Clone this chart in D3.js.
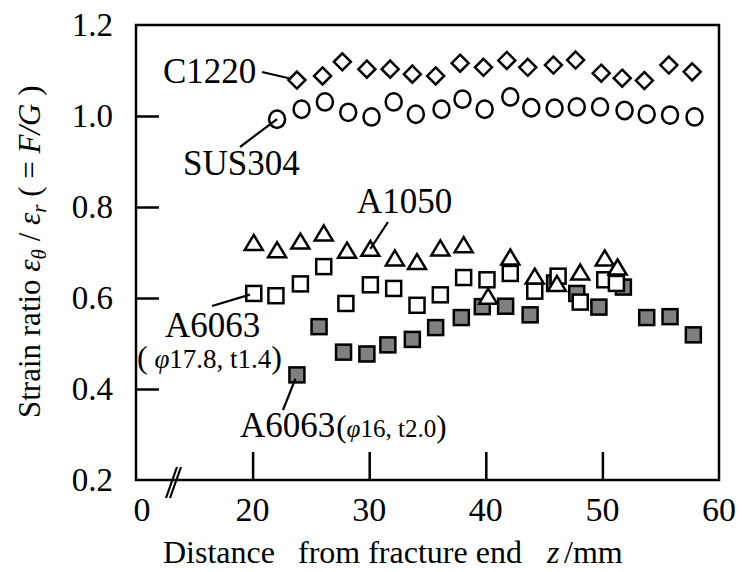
<!DOCTYPE html>
<html>
<head>
<meta charset="utf-8">
<script src="https://cdn.jsdelivr.net/npm/d3@7"></script>
<style>
  body { margin: 0; background: #fff; }
  svg { display: block; }
  text { font-family: 'Liberation Serif', 'Times New Roman', serif; fill: #000; }
</style>
</head>
<body>
<div id="chart"></div>
<script>
// distance from fracture end z (mm) and strain ratio, one pair of arrays per material
const c1220Z = [23.8, 26.0, 27.7, 29.8, 31.8, 33.7, 35.7, 37.8, 39.8, 41.8, 43.6, 45.8, 47.7, 49.9, 51.7, 53.6, 55.7, 57.7];
const c1220V = [1.079, 1.088, 1.119, 1.103, 1.103, 1.092, 1.088, 1.116, 1.107, 1.122, 1.107, 1.112, 1.123, 1.094, 1.083, 1.078, 1.112, 1.097];

const sus304Z = [22.1, 24.2, 26.2, 28.2, 30.2, 32.1, 34.0, 36.2, 38.0, 39.9, 42.1, 43.9, 45.9, 47.8, 49.8, 51.9, 53.8, 55.8, 57.9];
const sus304V = [0.993, 1.015, 1.031, 1.008, 0.998, 1.031, 1.004, 1.015, 1.037, 1.015, 1.042, 1.018, 1.017, 1.020, 1.020, 1.012, 1.004, 1.002, 0.998];

const a1050Z = [20.1, 22.1, 24.1, 26.1, 28.1, 30.1, 32.2, 34.1, 36.1, 38.1, 40.2, 42.1, 44.2, 46.1, 48.1, 50.2, 51.3];
const a1050V = [0.721, 0.705, 0.724, 0.742, 0.704, 0.708, 0.687, 0.679, 0.709, 0.716, 0.603, 0.689, 0.647, 0.631, 0.656, 0.687, 0.667];

const a6063aZ = [20.1, 22.0, 24.1, 26.1, 28.0, 30.1, 32.1, 34.1, 36.1, 38.1, 40.1, 42.1, 44.2, 46.2, 48.1, 50.2, 51.2];
const a6063aV = [0.610, 0.605, 0.631, 0.669, 0.588, 0.629, 0.621, 0.584, 0.607, 0.645, 0.640, 0.654, 0.615, 0.648, 0.591, 0.640, 0.632];

const a6063bZ = [23.8, 25.7, 27.8, 29.8, 31.6, 33.7, 35.7, 37.9, 39.7, 41.7, 43.8, 45.9, 47.8, 49.7, 51.8, 53.8, 55.8, 57.8];
const a6063bV = [0.431, 0.537, 0.481, 0.477, 0.497, 0.509, 0.535, 0.557, 0.581, 0.582, 0.563, 0.633, 0.610, 0.580, 0.624, 0.557, 0.559, 0.519];

const xTicks = [10, 20, 30, 40, 50, 60];
const xTickLabels = ['0', '20', '30', '40', '50', '60'];
const yTicks = [0.2, 0.4, 0.6, 0.8, 1.0, 1.2];

const width = 742, height = 572;
const margin = { top: 25, right: 23, bottom: 92, left: 136 };

const svg = d3.select('#chart').append('svg')
  .attr('width', width).attr('height', height);

// axis is broken: left edge stands for 10 mm but is labelled 0
const x = d3.scaleLinear().domain([10, 60]).range([margin.left, width - margin.right]);
const y = d3.scaleLinear().domain([0.2, 1.2]).range([height - margin.bottom, margin.top]);

// ticks (inward)
svg.append('g')
  .attr('transform', `translate(0,${y(0.2)})`)
  .call(d3.axisTop(x).tickValues(xTicks.slice(1, -1)).tickSize(28).tickFormat(''))
  .call(g => g.select('.domain').remove())
  .call(g => g.selectAll('line').attr('stroke-width', 2.5));

svg.append('g')
  .attr('transform', `translate(${x(10)},0)`)
  .call(d3.axisRight(y).tickValues(yTicks.slice(1, -1)).tickSize(23).tickFormat(''))
  .call(g => g.select('.domain').remove())
  .call(g => g.selectAll('line').attr('stroke-width', 2.5));

svg.append('rect')
  .attr('x', x(10)).attr('y', y(1.2))
  .attr('width', x(60) - x(10)).attr('height', y(0.2) - y(1.2))
  .attr('fill', 'none').attr('stroke', '#000').attr('stroke-width', 2.5);

// tick labels
svg.append('g').selectAll('text')
  .data(xTicks)
  .join('text')
  .attr('x', (d, i) => x(d) + (i === 0 ? 6 : 0))
  .attr('y', y(0.2) + 41)
  .attr('text-anchor', 'middle')
  .attr('font-size', 34)
  .text((d, i) => xTickLabels[i]);

svg.append('g').selectAll('text')
  .data(yTicks)
  .join('text')
  .attr('x', x(10) - 23)
  .attr('y', d => y(d) + 11)
  .attr('text-anchor', 'end')
  .attr('font-size', 33)
  .text(d => d.toFixed(1));

// axis break mark
const brk = svg.append('g').attr('stroke', '#000').attr('stroke-width', 2.2);
[0, 4].forEach(o => {
  brk.append('line')
    .attr('x1', 166 + o).attr('y1', 498)
    .attr('x2', 177 + o).attr('y2', 467);
});

// markers
const pts = (zs, vs) => zs.map((z, i) => ({ z, v: vs[i] }));

svg.append('g').selectAll('rect')
  .data(pts(a6063bZ, a6063bV))
  .join('rect')
  .attr('x', d => x(d.z) - 7.5).attr('y', d => y(d.v) - 7.5)
  .attr('width', 15).attr('height', 15)
  .attr('fill', '#808080').attr('stroke', '#000').attr('stroke-width', 2.5);

svg.append('g').selectAll('rect')
  .data(pts(a6063aZ, a6063aV))
  .join('rect')
  .attr('x', d => x(d.z) - 7.5).attr('y', d => y(d.v) - 7.5)
  .attr('width', 15).attr('height', 15)
  .attr('fill', '#fff').attr('stroke', '#000').attr('stroke-width', 2.5);

svg.append('g').selectAll('path')
  .data(pts(a1050Z, a1050V))
  .join('path')
  .attr('d', d => {
    const cx = x(d.z), cy = y(d.v);
    return `M${cx},${cy - 8}L${cx + 9},${cy + 7}L${cx - 9},${cy + 7}Z`;
  })
  .attr('fill', '#fff').attr('stroke', '#000').attr('stroke-width', 2.5)
  .attr('stroke-linejoin', 'miter');

svg.append('g').selectAll('ellipse')
  .data(pts(sus304Z, sus304V))
  .join('ellipse')
  .attr('cx', d => x(d.z)).attr('cy', d => y(d.v))
  .attr('rx', 8).attr('ry', 8.7)
  .attr('fill', '#fff').attr('stroke', '#000').attr('stroke-width', 2.5);

svg.append('g').selectAll('path')
  .data(pts(c1220Z, c1220V))
  .join('path')
  .attr('d', d => {
    const cx = x(d.z), cy = y(d.v);
    return `M${cx},${cy - 8.5}L${cx + 8.5},${cy}L${cx},${cy + 8.5}L${cx - 8.5},${cy}Z`;
  })
  .attr('fill', '#fff').attr('stroke', '#000').attr('stroke-width', 2.5);

// annotations with leader lines to one point of each series
const notes = [
  { label: 'C1220', tx: 163, ty: 83, lx: 262, ly: 72, z: c1220Z[0], v: c1220V[0], gap: 6 },
  { label: 'SUS304', tx: 183, ty: 175, lx: 240, ly: 147, z: sus304Z[0], v: sus304V[0], gap: 0 },
  { label: 'A1050', tx: 357, ty: 213, lx: 388, ly: 222, z: a1050Z[5], v: a1050V[5], gap: 0 },
  { label: 'A6063', tx: 165, ty: 337, lx: 212, ly: 306, z: a6063aZ[0], v: a6063aV[0], gap: 4 },
  { label: 'A6063', tx: 240, ty: 437, lx: 283, ly: 410, z: a6063bZ[0], v: a6063bV[0], gap: 4 }
];

const noteText = [];
notes.forEach(n => {
  const px = x(n.z), py = y(n.v);
  const dx = px - n.lx, dy = py - n.ly, len = Math.hypot(dx, dy);
  svg.append('line')
    .attr('x1', n.lx).attr('y1', n.ly)
    .attr('x2', px - dx / len * n.gap).attr('y2', py - dy / len * n.gap)
    .attr('stroke', '#000').attr('stroke-width', 2.2);
  noteText.push(svg.append('text')
    .attr('x', n.tx).attr('y', n.ty)
    .attr('font-size', 35)
    .text(n.label));
});

const sub1 = svg.append('text').attr('x', 137).attr('y', 368).attr('font-size', 27);
sub1.append('tspan').attr('font-size', 32).text('(');
sub1.append('tspan').attr('font-style', 'italic').text(' φ');
sub1.append('tspan').text('17.8, t1.4');
sub1.append('tspan').attr('font-size', 32).text(')');

// second size note follows its label directly
const lastLabel = noteText[4].node();
const sub2 = svg.append('text')
  .attr('x', 240 + lastLabel.getComputedTextLength() + 1)
  .attr('y', 437).attr('font-size', 25);
sub2.append('tspan').attr('font-size', 31).text('(');
sub2.append('tspan').attr('font-style', 'italic').text('φ');
sub2.append('tspan').text('16, t2.0');
sub2.append('tspan').attr('font-size', 31).text(')');

// x axis title
const xt = svg.append('g').attr('font-size', 32);
xt.append('text').attr('x', 163).attr('y', 563).text('Distance');
xt.append('text').attr('x', 298).attr('y', 563).text('from fracture end');
xt.append('text').attr('x', 547).attr('y', 563).attr('font-style', 'italic').text('z');
xt.append('text').attr('x', 564).attr('y', 563).text('/mm');

// y axis title
const yt = svg.append('text')
  .attr('transform', 'translate(40,418) rotate(-90)')
  .attr('font-size', 31);
yt.append('tspan').text('Strain ratio ');
yt.append('tspan').attr('font-style', 'italic').text('ε');
yt.append('tspan').attr('font-style', 'italic').attr('font-size', 21).attr('dy', 6).text('θ');
yt.append('tspan').attr('dy', -6).text(' / ');
yt.append('tspan').attr('font-style', 'italic').text('ε');
yt.append('tspan').attr('font-style', 'italic').attr('font-size', 21).attr('dy', 6).text('r');
yt.append('tspan').attr('dy', -6).text(' ( = ');
yt.append('tspan').attr('font-style', 'italic').text('F/G');
yt.append('tspan').text(' )');
</script>
</body>
</html>
